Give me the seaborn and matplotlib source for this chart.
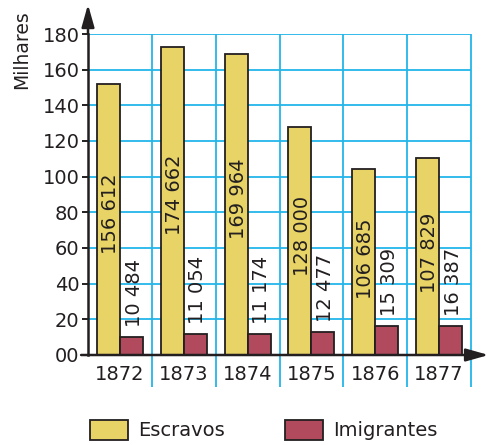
import numpy as np
import pandas as pd
import seaborn as sns
from matplotlib import pyplot as plt

sns.set_style('white')
plt.rcParams['font.family'] = ['DejaVu Sans']

# dados (milhares)
anos = ['1872', '1873', '1874', '1875', '1876', '1877']
escravos = [151.9, 172.9, 168.8, 128.0, 104.3, 110.3]
imigrantes = [10.3, 11.8, 11.8, 13.1, 16.3, 16.3]
rotulos_escravos = ['156 612', '174 662', '169 964', '128 000', '106 685', '107 829']
rotulos_imigrantes = ['10 484', '11 054', '11 174', '12 477', '15 309', '16 387']
yticks = [0, 20, 40, 60, 80, 100, 120, 140, 160, 180]
ytick_labels = ['00', '20', '40', '60', '80', '100', '120', '140', '160', '180']

amarelo = '#E8D366'
vermelho = '#B04A5C'
ciano = '#22B5EA'
escuro = '#231F20'

df = pd.DataFrame({
    'ano': anos * 2,
    'valor': escravos + imigrantes,
    'serie': ['Escravos'] * len(anos) + ['Imigrantes'] * len(anos),
})

fig = plt.figure(figsize=(4.89, 4.45), dpi=100)
ax = fig.add_axes([88 / 489, 1 - 355 / 445, 383 / 489, 321 / 445])

# grade
ax.set_axisbelow(True)
ax.yaxis.grid(True, color=ciano, linewidth=1.3)
ax.vlines(np.arange(len(anos)) + 0.5, -18, 180, color=ciano, linewidth=1.3,
          clip_on=False, zorder=0)

sns.barplot(data=df, x='ano', y='valor', hue='serie', palette=[amarelo, vermelho],
            width=46 / 64, saturation=1, edgecolor=escuro, linewidth=1.3, ax=ax,
            zorder=2)

ax.set_xlim(-0.5, len(anos) - 0.5)
ax.set_ylim(0, 180)
ax.set_yticks(yticks)
ax.set_yticklabels(ytick_labels)
ax.tick_params(axis='y', length=4.5, width=1.4, color=escuro, pad=1.5,
               labelsize=14, labelcolor=escuro, left=True)
ax.tick_params(axis='x', length=0, pad=7, labelsize=14, labelcolor=escuro)
ax.set_xlabel('')
ax.set_ylabel('')

for s in ['top', 'right', 'bottom']:
    ax.spines[s].set_visible(False)
ax.spines['left'].set_color(escuro)
ax.spines['left'].set_linewidth(1.8)
ax.spines['left'].set_zorder(3)

# setas dos eixos
seta = dict(arrowstyle='-|>,head_length=0.85,head_width=0.24', color=escuro,
            linewidth=1.8, shrinkA=0, shrinkB=0, mutation_scale=16)
ax.annotate('', xy=(0, 1.092), xytext=(0, 1), xycoords='axes fraction',
            arrowprops=seta, annotation_clip=False)
ax.annotate('', xy=(1.046, 0), xytext=(-0.018, 0), xycoords='axes fraction',
            arrowprops=seta, annotation_clip=False, zorder=4)

# rotulos das barras
for barra, txt in zip(ax.containers[0], rotulos_escravos):
    x = barra.get_x() + barra.get_width() / 2
    h = barra.get_height()
    ax.annotate(txt, (x, h * 0.52), xytext=(1.5, 0), textcoords='offset points',
                rotation=90, ha='center', va='center', fontsize=14, color=escuro)
for barra, txt in zip(ax.containers[1], rotulos_imigrantes):
    x = barra.get_x() + barra.get_width() / 2
    h = barra.get_height()
    ax.annotate(txt, (x, h), xytext=(2, 7), textcoords='offset points',
                rotation=90, ha='center', va='bottom', fontsize=14, color=escuro)

fig.text(21.5 / 489, 1 - 10 / 445, 'Milhares', rotation=90, ha='center', va='top',
         fontsize=13.5, color=escuro)

ax.get_legend().remove()
handles, labels = ax.get_legend_handles_labels()
fig.legend(handles, labels, loc='center', bbox_to_anchor=(263.5 / 489, 15 / 445),
           ncol=2, frameon=False, fontsize=14, handlelength=1.96, handleheight=1.24,
           handletextpad=0.5, columnspacing=3.1, labelcolor=escuro)

plt.savefig('out.png', dpi=100)
